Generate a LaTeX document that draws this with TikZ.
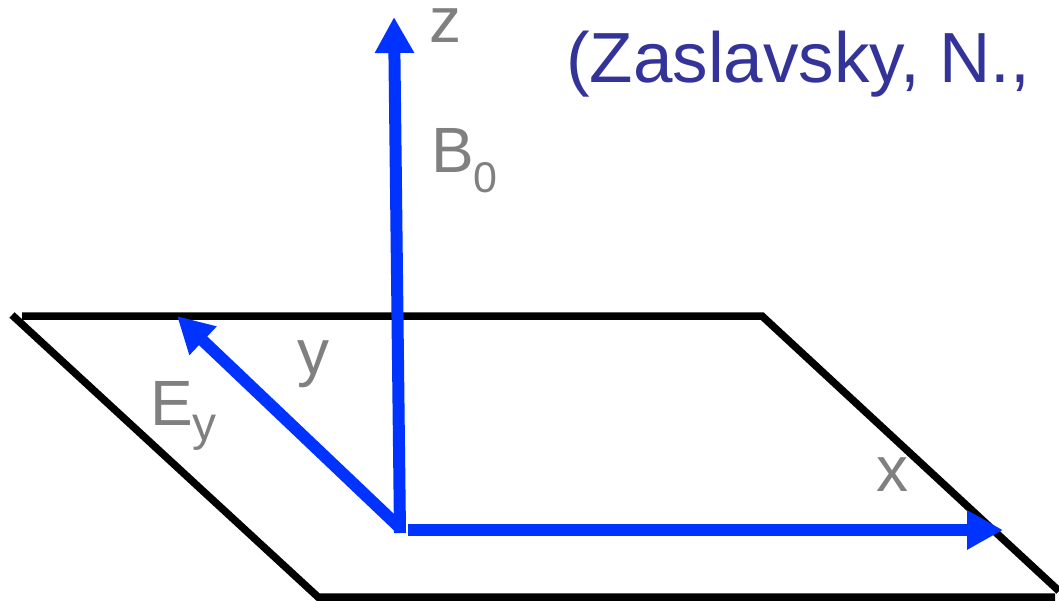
\documentclass[tikz,border=0pt]{standalone}
\usepackage{fontspec}
\setmainfont{Liberation Sans}
\usetikzlibrary{arrows.meta}
\definecolor{field}{HTML}{0033FF}
\definecolor{dim}{HTML}{808080}
\definecolor{cite}{HTML}{333399}

\begin{document}
\begin{tikzpicture}[x=1pt,y=-1pt,
  plane/.style={draw=black,line width=7.5pt},
  axis/.style={draw=field,line width=12pt,-{Triangle[length=36pt,width=37pt]}},
  lbl/.style={text=dim,inner sep=0pt,anchor=base west,font=\fontsize{64}{64}\selectfont}]
\useasboundingbox (0,0) rectangle (1059,601);
% plane
\coordinate (p1) at (22,316);
\coordinate (p2) at (762,316);
\coordinate (p3) at (1059,591);
\coordinate (p4) at (318,597);
\draw[plane] (12,315) -- (p4) -- (1055,597);
\draw[plane] (p1) -- (p2) -- (p3);
% axes
\coordinate (oz) at (400,533);
\coordinate (oy) at (398,526);
\coordinate (ox) at (408,530);
\coordinate (ztip) at (394,17);
\coordinate (ytip) at (177,316);
\coordinate (xtip) at (1003,530);
\draw[axis] (oz) -- (ztip);
\draw[axis] (oy) -- (ytip);
\draw[axis] (ox) -- (xtip);
% labels
\node[lbl,text height=35pt,text depth=0pt] (zlab) at (429,43) {z};
\node[lbl] (blab) at (431,173) {B\raisebox{-20pt}{\fontsize{43}{43}\selectfont 0}};
\node[lbl] (ylab) at (297,374) {y};
\node[lbl] (elab) at (150,425) {E\raisebox{-15pt}{\fontsize{48}{48}\selectfont y}};
\node[lbl] (xlab) at (876,491) {x};
\node[text=cite,inner sep=0pt,anchor=base west,font=\fontsize{71}{71}\selectfont] (ref) at (566,83) {(Zaslavsky, N.,};
\end{tikzpicture}
\end{document}
